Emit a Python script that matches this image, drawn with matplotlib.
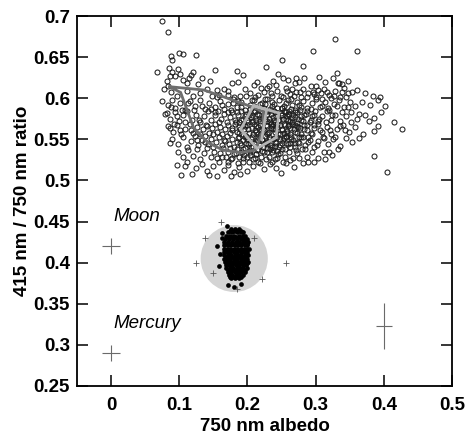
import matplotlib
matplotlib.use("Agg")
import matplotlib.pyplot as plt
from matplotlib.patches import Ellipse

plt.rcParams['font.family'] = ['Liberation Sans', 'DejaVu Sans']

# ---------------- data ----------------
cloud_outliers = [(0.074,0.694),(0.083,0.680),(0.099,0.655),(0.106,0.654),(0.124,0.652),(0.088,0.651),
    (0.089,0.646),(0.067,0.632),(0.085,0.637),(0.152,0.634),(0.185,0.633),(0.120,0.632),(0.098,0.635),
    (0.328,0.672),(0.296,0.658),(0.251,0.647),(0.227,0.638),(0.282,0.639),(0.193,0.628),(0.331,0.631),
    (0.361,0.657),(0.426,0.563),(0.386,0.530),(0.404,0.510),(0.353,0.547),(0.363,0.552),(0.312,0.535),
    (0.319,0.535),(0.314,0.526),(0.324,0.531),(0.281,0.521),(0.386,0.560),(0.378,0.572),(0.363,0.581),
    (0.361,0.610),(0.354,0.607),(0.395,0.601),(0.334,0.619),(0.249,0.509),(0.086,0.545),(0.103,0.507),
    (0.096,0.519),(0.108,0.517),(0.118,0.508),(0.144,0.507),(0.156,0.505),(0.082,0.582),(0.087,0.564)]

cloud_upper = [(0.114,0.625),(0.106,0.622),(0.111,0.619),(0.094,0.627),(0.090,0.632),(0.101,0.630),
    (0.117,0.628),(0.082,0.621),(0.087,0.627),(0.084,0.615),(0.156,0.610),(0.165,0.611),(0.172,0.609),
    (0.177,0.618),(0.186,0.620),(0.245,0.630),(0.238,0.621),(0.252,0.624),(0.259,0.622),(0.214,0.620),
    (0.271,0.625),(0.283,0.624),(0.269,0.619),(0.276,0.620),(0.333,0.619),(0.209,0.616),(0.220,0.612),
    (0.232,0.615),(0.242,0.616),(0.256,0.613),(0.265,0.611),(0.281,0.611),(0.293,0.615),(0.296,0.608),
    (0.308,0.606),(0.319,0.604),(0.327,0.603),(0.133,0.625),(0.145,0.621),(0.305,0.626),(0.314,0.620),
    (0.326,0.624),(0.338,0.617),(0.348,0.621),(0.301,0.615),(0.128,0.617)]

cloud_band_60 = [(0.078,0.611),(0.088,0.607),(0.097,0.603),(0.112,0.609),(0.120,0.603),(0.131,0.606),
    (0.140,0.611),(0.148,0.603),(0.158,0.604),(0.172,0.604),(0.180,0.602),(0.189,0.603),(0.196,0.611),
    (0.203,0.606),(0.211,0.601),(0.224,0.607),(0.236,0.603),(0.244,0.609),(0.252,0.601),(0.262,0.605),
    (0.271,0.607),(0.279,0.602),(0.289,0.606),(0.300,0.601),(0.312,0.611),(0.322,0.600),(0.338,0.607),
    (0.345,0.601),(0.372,0.606),(0.384,0.603),(0.155,0.601),(0.228,0.612),(0.258,0.609),(0.303,0.610),
    (0.341,0.612)]

cloud_band_59 = [(0.075,0.597),(0.083,0.592),(0.090,0.598),(0.094,0.588),(0.101,0.594),(0.108,0.586),
    (0.116,0.597),(0.123,0.590),(0.130,0.598),(0.137,0.587),(0.144,0.594),(0.152,0.589),(0.160,0.597),
    (0.165,0.587),(0.172,0.593),(0.179,0.599),(0.184,0.589),(0.191,0.595),(0.197,0.586),(0.203,0.592),
    (0.209,0.598),(0.215,0.588),(0.221,0.594),(0.228,0.599),(0.233,0.587),(0.239,0.593),(0.246,0.598),
    (0.251,0.588),(0.257,0.594),(0.264,0.599),(0.269,0.586),(0.275,0.592),(0.282,0.597),(0.288,0.588),
    (0.294,0.594),(0.301,0.599),(0.307,0.589),(0.313,0.595),(0.320,0.586),(0.327,0.593),(0.334,0.598),
    (0.341,0.589),(0.350,0.595),(0.358,0.590),(0.368,0.596),(0.379,0.592),(0.392,0.598),(0.402,0.590),
    (0.186,0.597),(0.236,0.596),(0.272,0.596),(0.310,0.599)]

cloud_band_58 = [(0.079,0.581),(0.086,0.575),(0.093,0.583),(0.099,0.572),(0.105,0.579),(0.112,0.584),
    (0.118,0.574),(0.124,0.580),(0.131,0.571),(0.136,0.578),(0.142,0.584),(0.147,0.573),(0.152,0.579),
    (0.157,0.585),(0.161,0.575),(0.166,0.581),(0.170,0.571),(0.174,0.577),(0.178,0.583),(0.182,0.573),
    (0.186,0.579),(0.190,0.585),(0.194,0.575),(0.198,0.581),(0.201,0.571),(0.205,0.577),(0.209,0.583),
    (0.213,0.573),(0.217,0.579),(0.221,0.585),(0.225,0.575),(0.229,0.581),(0.233,0.571),(0.237,0.577),
    (0.241,0.583),(0.245,0.573),(0.249,0.579),(0.253,0.585),(0.257,0.575),(0.261,0.581),(0.265,0.571),
    (0.269,0.577),(0.273,0.583),(0.278,0.573),(0.283,0.579),(0.288,0.584),(0.293,0.574),(0.298,0.580),
    (0.304,0.572),(0.310,0.578),(0.316,0.584),(0.322,0.574),(0.329,0.580),(0.336,0.572),(0.344,0.578),
    (0.352,0.583),(0.361,0.575),(0.372,0.580),(0.385,0.576),(0.396,0.583),(0.415,0.571)]

cloud_band_56 = [(0.084,0.566),(0.091,0.559),(0.097,0.568),(0.103,0.556),(0.109,0.563),(0.115,0.569),
    (0.120,0.558),(0.126,0.565),(0.131,0.556),(0.135,0.562),(0.139,0.568),(0.144,0.558),(0.148,0.564),
    (0.152,0.569),(0.156,0.559),(0.160,0.565),(0.163,0.556),(0.167,0.562),(0.171,0.568),(0.174,0.558),
    (0.178,0.564),(0.181,0.569),(0.185,0.559),(0.188,0.565),(0.192,0.556),(0.195,0.562),(0.199,0.568),
    (0.202,0.558),(0.206,0.564),(0.209,0.569),(0.213,0.559),(0.216,0.565),(0.220,0.556),(0.223,0.562),
    (0.227,0.568),(0.230,0.558),(0.234,0.564),(0.237,0.569),(0.241,0.559),(0.244,0.565),(0.248,0.556),
    (0.251,0.562),(0.255,0.568),(0.258,0.558),(0.262,0.564),(0.266,0.569),(0.270,0.559),(0.274,0.565),
    (0.278,0.556),(0.283,0.562),(0.288,0.568),(0.293,0.558),(0.298,0.564),(0.304,0.569),(0.310,0.559),
    (0.316,0.565),(0.323,0.557),(0.331,0.563),(0.340,0.568),(0.349,0.559),(0.358,0.565),(0.370,0.557),
    (0.392,0.566)]

cloud_band_55 = [(0.090,0.551),(0.098,0.544),(0.105,0.553),(0.111,0.541),(0.117,0.548),(0.123,0.554),
    (0.128,0.543),(0.133,0.549),(0.138,0.554),(0.142,0.544),(0.146,0.550),(0.150,0.541),(0.154,0.547),
    (0.158,0.553),(0.162,0.543),(0.166,0.549),(0.170,0.554),(0.173,0.544),(0.177,0.550),(0.180,0.541),
    (0.184,0.547),(0.187,0.553),(0.191,0.543),(0.194,0.549),(0.198,0.554),(0.201,0.544),(0.205,0.550),
    (0.208,0.541),(0.212,0.547),(0.215,0.553),(0.219,0.543),(0.222,0.549),(0.226,0.554),(0.229,0.544),
    (0.233,0.550),(0.236,0.541),(0.240,0.547),(0.244,0.553),(0.248,0.543),(0.252,0.549),(0.256,0.554),
    (0.260,0.544),(0.264,0.550),(0.269,0.541),(0.274,0.547),(0.279,0.553),(0.285,0.543),(0.291,0.549),
    (0.297,0.541),(0.304,0.548),(0.311,0.553),(0.318,0.544),(0.326,0.550),(0.336,0.542),(0.344,0.552)]

cloud_band_53 = [(0.098,0.535),(0.106,0.528),(0.113,0.537),(0.120,0.530),(0.126,0.538),(0.131,0.526),
    (0.136,0.533),(0.141,0.539),(0.146,0.528),(0.151,0.535),(0.156,0.527),(0.160,0.533),(0.164,0.539),
    (0.168,0.529),(0.172,0.535),(0.176,0.526),(0.180,0.532),(0.184,0.538),(0.188,0.528),(0.192,0.534),
    (0.196,0.539),(0.200,0.529),(0.204,0.535),(0.208,0.526),(0.212,0.532),(0.216,0.538),(0.220,0.528),
    (0.224,0.534),(0.228,0.539),(0.232,0.529),(0.236,0.535),(0.240,0.526),(0.245,0.532),(0.250,0.538),
    (0.255,0.528),(0.261,0.534),(0.267,0.527),(0.273,0.533),(0.280,0.538),(0.287,0.529),(0.295,0.535),
    (0.303,0.527),(0.333,0.538)]

cloud_band_51 = [(0.112,0.522),(0.124,0.515),(0.133,0.520),(0.141,0.512),(0.149,0.518),(0.158,0.523),
    (0.165,0.513),(0.172,0.519),(0.180,0.510),(0.187,0.516),(0.193,0.522),(0.200,0.512),(0.208,0.518),
    (0.216,0.523),(0.224,0.514),(0.233,0.520),(0.242,0.515),(0.256,0.521),(0.268,0.516),(0.298,0.523),
    (0.176,0.506),(0.189,0.508)]

cloud_core = [(0.176,0.586),(0.183,0.571),(0.189,0.562),(0.196,0.553),(0.203,0.546),(0.211,0.561),
    (0.218,0.572),(0.224,0.588),(0.231,0.553),(0.238,0.562),(0.242,0.578),(0.247,0.567),(0.253,0.552),
    (0.259,0.573),(0.264,0.587),(0.268,0.562),(0.207,0.580),(0.214,0.537),(0.226,0.545),(0.235,0.581),
    (0.246,0.541),(0.252,0.575),(0.258,0.560),(0.199,0.574),(0.186,0.552),(0.193,0.538),(0.221,0.576),
    (0.229,0.566),(0.239,0.552),(0.256,0.583),(0.262,0.545),(0.272,0.570),(0.277,0.586),(0.283,0.567),
    (0.289,0.553),(0.294,0.578)]

cloud_core2 = [(0.153,0.583),(0.158,0.571),(0.162,0.592),(0.167,0.548),(0.171,0.583),(0.175,0.539),
    (0.177,0.561),(0.179,0.594),(0.183,0.533),(0.184,0.583),(0.187,0.571),(0.189,0.545),(0.191,0.589),
    (0.193,0.567),(0.195,0.531),(0.197,0.578),(0.198,0.546),(0.201,0.562),(0.203,0.587),(0.204,0.537),
    (0.206,0.553),(0.207,0.571),(0.209,0.591),(0.210,0.545),(0.212,0.566),(0.213,0.532),(0.214,0.581),
    (0.216,0.557),(0.217,0.543),(0.218,0.593),(0.219,0.568),(0.221,0.551),(0.222,0.536),(0.223,0.579),
    (0.224,0.561),(0.226,0.593),(0.227,0.547),(0.228,0.572),(0.229,0.534),(0.231,0.584),(0.232,0.559),
    (0.233,0.543),(0.234,0.569),(0.236,0.591),(0.237,0.551),(0.238,0.537),(0.239,0.574),(0.241,0.563),
    (0.242,0.546),(0.243,0.588),(0.245,0.556),(0.246,0.573),(0.247,0.533),(0.249,0.582),(0.250,0.561),
    (0.251,0.545),(0.253,0.569),(0.254,0.591),(0.255,0.538),(0.257,0.553),(0.258,0.578),(0.259,0.566),
    (0.261,0.584),(0.262,0.557),(0.263,0.541),(0.265,0.576),(0.266,0.592),(0.267,0.549),(0.269,0.567),
    (0.270,0.583),(0.271,0.537),(0.273,0.558),(0.274,0.575),(0.276,0.546),(0.277,0.564),(0.279,0.589),
    (0.281,0.553),(0.282,0.572),(0.284,0.538),(0.286,0.581),(0.287,0.561),(0.289,0.547),(0.291,0.571),
    (0.293,0.587),(0.295,0.556),(0.297,0.567),(0.299,0.584),(0.302,0.543),(0.305,0.575),(0.307,0.561),
    (0.309,0.591),(0.312,0.552),(0.315,0.571),(0.318,0.588),(0.321,0.561),(0.324,0.579),(0.328,0.553),
    (0.332,0.591),(0.335,0.566),(0.339,0.583),(0.343,0.561),(0.347,0.589),(0.352,0.571),
    (0.149,0.556),(0.146,0.587),(0.141,0.566),(0.137,0.547),(0.134,0.591),(0.129,0.573),(0.126,0.549),
    (0.121,0.586),(0.117,0.561),(0.113,0.594),(0.109,0.571),(0.104,0.586),(0.101,0.561),(0.096,0.578),
    (0.092,0.569),(0.088,0.589),
    (0.163,0.528),(0.171,0.522),(0.178,0.527),(0.186,0.521),(0.194,0.527),(0.202,0.522),(0.211,0.527),
    (0.219,0.521),(0.227,0.526),(0.236,0.522),(0.244,0.527),(0.252,0.523),(0.263,0.525),(0.276,0.527),
    (0.289,0.523),
    (0.198,0.603),(0.207,0.598),(0.216,0.604),(0.226,0.599),(0.235,0.606),(0.249,0.603),(0.259,0.598),
    (0.268,0.603),(0.277,0.607),(0.287,0.601),(0.297,0.605),(0.317,0.607),(0.329,0.609),(0.336,0.602),
    (0.347,0.606)]

cloud_core3 = [(0.196,0.566),(0.199,0.551),(0.202,0.579),(0.205,0.541),(0.208,0.557),(0.211,0.585),
    (0.214,0.549),(0.217,0.575),(0.220,0.563),(0.223,0.541),(0.225,0.583),(0.228,0.556),(0.231,0.575),
    (0.233,0.538),(0.236,0.566),(0.239,0.585),(0.241,0.542),(0.244,0.569),(0.247,0.551),(0.250,0.588),
    (0.253,0.558),(0.256,0.545),(0.259,0.581),(0.261,0.568),(0.264,0.553),(0.267,0.579),(0.270,0.546),
    (0.273,0.566),(0.276,0.553),(0.279,0.578),(0.208,0.572),(0.218,0.553),(0.229,0.547),(0.240,0.571),
    (0.251,0.579),(0.262,0.572),(0.191,0.573),(0.187,0.558),(0.203,0.531),(0.243,0.536)]

# outline polygons (albedo, ratio)
dark_poly_x = [0.086, 0.136, 0.205, 0.223, 0.223, 0.212, 0.190, 0.164, 0.142, 0.121, 0.102, 0.086]
dark_poly_y = [0.614, 0.610, 0.590, 0.584, 0.562, 0.537, 0.534, 0.537, 0.546, 0.564, 0.607, 0.614]
light_poly_x = [0.209, 0.246, 0.242, 0.214, 0.190, 0.209, 0.228, 0.221]
light_poly_y = [0.591, 0.582, 0.552, 0.539, 0.562, 0.591, 0.586, 0.550]

# Moon sample cluster: rows of (ratio, [albedo values])
moon_rows = [
    (0.441, [0.176, 0.182, 0.188]),
    (0.437, [0.172, 0.178, 0.185, 0.190, 0.194]),
    (0.433, [0.169, 0.175, 0.180, 0.187, 0.193, 0.197]),
    (0.429, [0.167, 0.173, 0.179, 0.184, 0.190, 0.195, 0.199]),
    (0.425, [0.166, 0.172, 0.177, 0.183, 0.188, 0.193, 0.198, 0.201]),
    (0.421, [0.165, 0.171, 0.176, 0.181, 0.186, 0.191, 0.196, 0.200]),
    (0.417, [0.166, 0.170, 0.175, 0.180, 0.185, 0.190, 0.195, 0.199, 0.202]),
    (0.413, [0.165, 0.170, 0.175, 0.180, 0.185, 0.190, 0.195, 0.200]),
    (0.409, [0.166, 0.171, 0.176, 0.181, 0.186, 0.191, 0.196, 0.201]),
    (0.405, [0.166, 0.170, 0.175, 0.180, 0.185, 0.190, 0.195, 0.200]),
    (0.401, [0.167, 0.172, 0.177, 0.182, 0.187, 0.192, 0.197, 0.201]),
    (0.397, [0.168, 0.173, 0.178, 0.183, 0.188, 0.193, 0.198]),
    (0.393, [0.169, 0.174, 0.179, 0.184, 0.189, 0.194, 0.199]),
    (0.389, [0.171, 0.176, 0.181, 0.186, 0.191, 0.196]),
    (0.385, [0.173, 0.178, 0.183, 0.188, 0.193]),
    (0.381, [0.176, 0.182, 0.188]),
    (0.439, [0.174, 0.180, 0.186, 0.191]),
    (0.431, [0.171, 0.177, 0.183, 0.189, 0.195]),
    (0.423, [0.168, 0.174, 0.179, 0.185, 0.190, 0.196, 0.199]),
    (0.415, [0.168, 0.173, 0.178, 0.183, 0.188, 0.193, 0.198]),
    (0.407, [0.168, 0.173, 0.178, 0.183, 0.188, 0.193, 0.198]),
    (0.399, [0.170, 0.175, 0.180, 0.185, 0.190, 0.195, 0.199]),
    (0.391, [0.172, 0.177, 0.182, 0.187, 0.192, 0.197]),
    (0.383, [0.175, 0.180, 0.185, 0.190]),
]
moon_strays = [(0.156, 0.420), (0.158, 0.396), (0.162, 0.430), (0.172, 0.373), (0.180, 0.371),
               (0.190, 0.374), (0.170, 0.445), (0.163, 0.436), (0.160, 0.410)]

moon_region_center = (0.1806, 0.405)
moon_region_size = (0.0985, 0.0813)

plus_x = [0.161, 0.137, 0.209, 0.125, 0.150, 0.257, 0.222, 0.185]
plus_y = [0.449, 0.430, 0.430, 0.400, 0.387, 0.399, 0.380, 0.368]

err_x = [0.0, 0.0, 0.40]
err_y = [0.420, 0.290, 0.323]
err_dx = [0.0135, 0.0135, 0.012]
err_dy = [0.010, 0.010, 0.028]

labels = ["Moon", "Mercury"]
label_pos = [(0.003, 0.446), (0.003, 0.316)]

x_ticks = [0, 0.1, 0.2, 0.3, 0.4, 0.5]
y_ticks = [0.25, 0.3, 0.35, 0.4, 0.45, 0.5, 0.55, 0.6, 0.65, 0.7]
x_ticklabels = ["0", "0.1", "0.2", "0.3", "0.4", "0.5"]
y_ticklabels = ["0.25", "0.3", "0.35", "0.4", "0.45", "0.5", "0.55", "0.6", "0.65", "0.7"]

# ---------------- plot ----------------
fig = plt.figure(figsize=(4.67, 4.34), dpi=100)
ax = fig.add_axes([77/467, 1-386/434, 375/467, 370/434])

ax.add_patch(Ellipse(moon_region_center, moon_region_size[0], moon_region_size[1],
                     facecolor='#d4d4d4', edgecolor='none', zorder=1))

mx, my = [], []
for yy, xs in moon_rows:
    for xx in xs:
        mx.append(xx); my.append(yy)
mx += [p[0] for p in moon_strays]
my += [p[1] for p in moon_strays]
ax.plot(mx, my, 'o', color='black', ms=3.4, mew=0, zorder=2)

ax.plot(plus_x, plus_y, '+', color='#555555', ms=5, mew=0.6, zorder=2)

cloud = (cloud_outliers + cloud_upper + cloud_band_60 + cloud_band_59 + cloud_band_58 +
         cloud_band_56 + cloud_band_55 + cloud_band_53 + cloud_band_51 + cloud_core +
         cloud_core2 + cloud_core3)
ax.plot([p[0] for p in cloud], [p[1] for p in cloud], 'o', mfc='none', mec='#1e1e1e',
        ms=3.6, mew=0.75, zorder=3)

ax.plot(dark_poly_x, dark_poly_y, '-', color='#6e6e6e', lw=2.0, zorder=4, solid_joinstyle='miter')
ax.plot(light_poly_x, light_poly_y, '-', color='#b4b4b4', lw=2.0, zorder=5, solid_joinstyle='miter')

ax.errorbar(err_x, err_y, xerr=err_dx, yerr=err_dy, fmt='none', ecolor='#6a6a6a',
            elinewidth=0.8, capsize=0, zorder=3)

for t, (lx, ly) in zip(labels, label_pos):
    ax.text(lx, ly, t, fontsize=13.5, style='italic', ha='left', va='bottom')

ax.set_xlim(-0.05, 0.5)
ax.set_ylim(0.25, 0.7)
ax.set_xticks(x_ticks)
ax.set_xticklabels(x_ticklabels, fontsize=13.5, fontweight='bold')
ax.set_yticks(y_ticks)
ax.set_yticklabels(y_ticklabels, fontsize=13.5, fontweight='bold')
ax.tick_params(direction='in', length=8, width=1.1, top=True, right=True, pad=5)
ax.tick_params(axis='x', pad=8)
for s in ax.spines.values():
    s.set_linewidth(1.3)

ax.set_xlabel("750 nm albedo", fontsize=13.5, fontweight='bold', labelpad=3)
ax.set_ylabel("415 nm / 750 nm ratio", fontsize=13.5, fontweight='bold', labelpad=2)

fig.savefig("out.png", dpi=100)
